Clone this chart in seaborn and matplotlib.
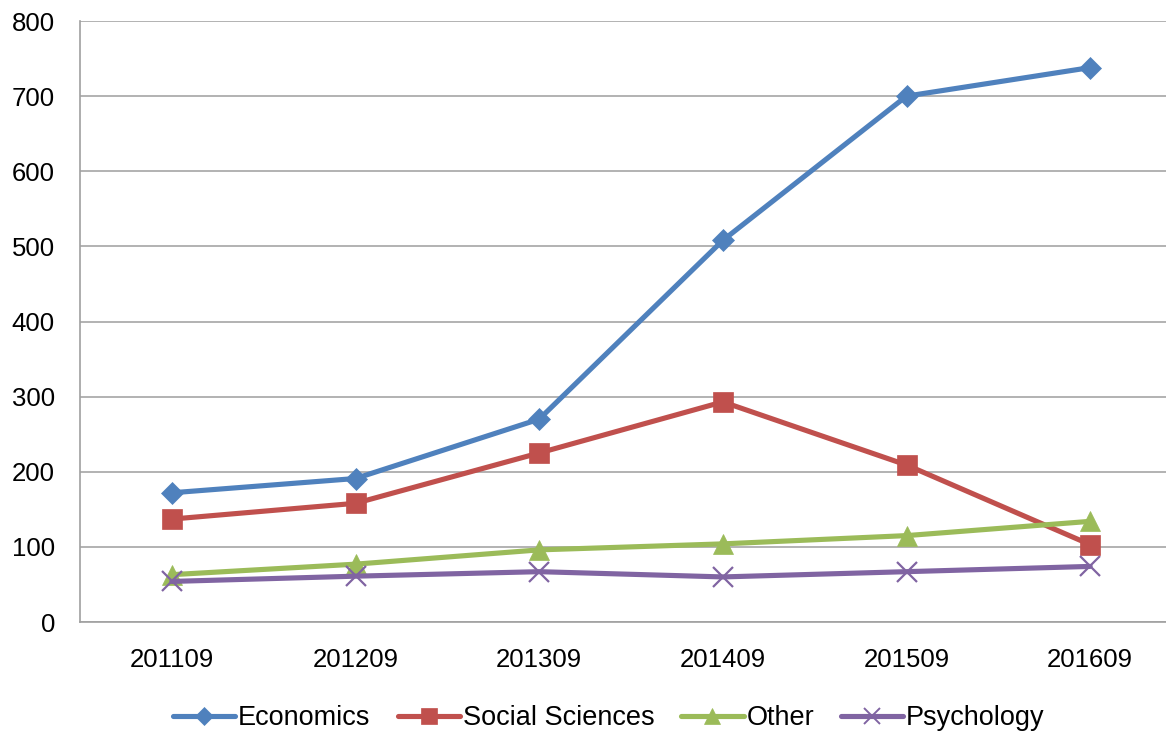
import matplotlib
matplotlib.use("Agg")
import matplotlib.pyplot as plt
from matplotlib.lines import Line2D
import seaborn as sns
import pandas as pd

periods = ["201109", "201209", "201309", "201409", "201509", "201609"]
economics = [172, 191, 270, 508, 700, 738]
social_sciences = [137, 158, 225, 293, 209, 103]
other = [63, 77, 96, 104, 115, 134]
psychology = [54, 61, 67, 60, 67, 74]

series_names = ["Economics", "Social Sciences", "Other", "Psychology"]
series_values = [economics, social_sciences, other, psychology]
colors = ["#4F81BD", "#C0504D", "#9BBB59", "#8064A2"]
markers = ["D", "s", "^", "x"]
msizes = [11.5, 15, 14.5, 14]

rows = []
for name, vals in zip(series_names, series_values):
    for i, v in enumerate(vals):
        rows.append({"pos": i, "value": v, "series": name})
df = pd.DataFrame(rows)

sns.set_style("white")
plt.rcParams["font.family"] = ["Liberation Sans", "DejaVu Sans"]

W, H = 1166, 732
fig = plt.figure(figsize=(W / 100, H / 100), dpi=100)
ax = fig.add_axes([80 / W, (H - 622) / H, (1182 - 80) / W, (622 - 21) / H])

for name, col, mk, ms in zip(series_names, colors, markers, msizes):
    sub = df[df["series"] == name]
    sns.lineplot(data=sub, x="pos", y="value", ax=ax, color=col, lw=3.7,
                 marker=mk, markersize=ms, markeredgecolor=col,
                 markeredgewidth=1.6 if mk == "x" else 0.5, legend=False,
                 zorder=3)

ax.set_xlim(-0.5, 5.5)
ax.set_ylim(0, 800)
ax.set_yticks(range(0, 801, 100))
ax.set_xticks(range(len(periods)))
ax.set_xticklabels(periods)
ax.set_xticks([i + 0.5 for i in range(-1, 6)], minor=True)
ax.tick_params(axis="x", which="major", length=0, pad=19, labelsize=18.5, labelcolor="black")
ax.tick_params(axis="x", which="minor", length=8, color="#A0A0A0", width=1.2, direction="out")
ax.tick_params(axis="y", length=8, color="#A0A0A0", width=1.2, direction="out",
               labelsize=18.5, pad=10, labelcolor="black")
ax.set_xlabel("")
ax.set_ylabel("")
ax.grid(axis="y", color="#A6A6A6", lw=1.2)
ax.grid(axis="x", visible=False)
for s in ["top", "right"]:
    ax.spines[s].set_visible(False)
for s in ["left", "bottom"]:
    ax.spines[s].set_color("#A0A0A0")
    ax.spines[s].set_linewidth(1.2)
ax.set_axisbelow(True)

handles = [Line2D([0], [0], color=c, lw=3.7, marker=m, markersize=ms * 0.8,
                  markeredgecolor=c, markeredgewidth=1.4 if m == "x" else 0.5)
           for c, m, ms in zip(colors, markers, msizes)]
leg = fig.legend(handles, series_names, loc="center", bbox_to_anchor=(609 / W, (H - 718) / H),
                 ncol=4, frameon=False, fontsize=19.5, handlelength=2.3, handletextpad=0.1,
                 columnspacing=1.0)
for t in leg.get_texts():
    t.set_color("black")

fig.savefig("out.png", dpi=100)
